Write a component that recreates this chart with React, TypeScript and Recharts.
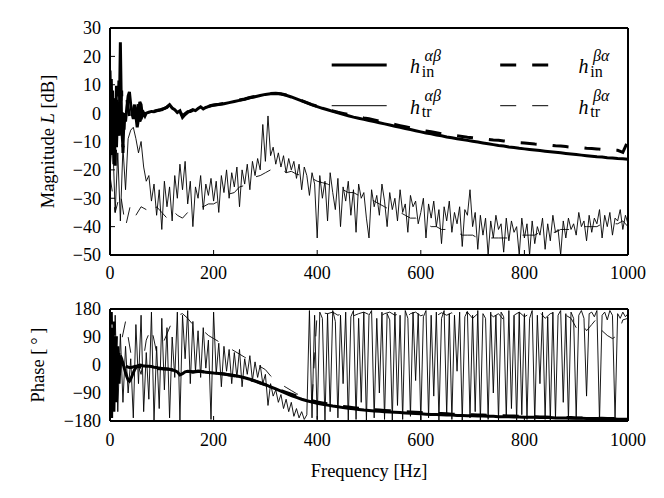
import React from 'react';
import { LineChart, Line, XAxis, YAxis, Legend } from 'recharts';

const FONT = '"Liberation Serif", "Times New Roman", Times, serif';

// ---------- frequency grids ----------
const inFreq = [
  0, 2.5, 5, 7.5, 10, 12.5, 15, 17.5, 20, 22.5, 25, 27.5, 30, 32.5, 35, 37.5, 40, 42.5, 45, 47.5, 50, 52.5, 55, 57.5, 60, 62.5, 65, 67.5, 70,
  75, 80, 85, 90, 95, 100, 105, 110, 115, 120, 125, 130, 135, 140, 145, 150, 155, 160, 165, 170, 175, 180, 185, 190, 195, 200,
  210, 220, 230, 240, 250, 260, 270, 280, 290, 300, 310, 320, 330, 340, 350, 360, 370, 380, 390, 400,
  410, 420, 430, 440, 450, 460, 470, 480, 490, 500, 510, 520, 530, 540, 550, 560, 570, 580, 590, 600,
  610, 620, 630, 640, 650, 660, 670, 680, 690, 700, 710, 720, 730, 740, 750, 760, 770, 780, 790, 800,
  810, 820, 830, 840, 850, 860, 870, 880, 890, 900, 910, 920, 930, 940, 950, 960, 970, 980, 990, 1000,
];

const trFreq = [
  0, 5, 10, 15, 20, 25, 30, 35, 40, 45, 50, 55, 60, 65, 70, 75, 80, 85, 90, 95,
  100, 105, 110, 115, 120, 125, 130, 135, 140, 145, 150, 155, 160, 165, 170, 175, 180, 185, 190, 195,
  200, 205, 210, 215, 220, 225, 230, 235, 240, 245, 250, 255, 260, 265, 270, 275, 280, 285, 290, 295,
  300, 305, 310, 315, 320, 325, 330, 335, 340, 345, 350, 355, 360, 365, 370, 375, 380, 385, 390, 395,
  400, 405, 410, 415, 420, 425, 430, 435, 440, 445, 450, 455, 460, 465, 470, 475, 480, 485, 490, 495,
  500, 505, 510, 515, 520, 525, 530, 535, 540, 545, 550, 555, 560, 565, 570, 575, 580, 585, 590, 595,
  600, 605, 610, 615, 620, 625, 630, 635, 640, 645, 650, 655, 660, 665, 670, 675, 680, 685, 690, 695,
  700, 705, 710, 715, 720, 725, 730, 735, 740, 745, 750, 755, 760, 765, 770, 775, 780, 785, 790, 795,
  800, 805, 810, 815, 820, 825, 830, 835, 840, 845, 850, 855, 860, 865, 870, 875, 880, 885, 890, 895,
  900, 905, 910, 915, 920, 925, 930, 935, 940, 945, 950, 955, 960, 965, 970, 975, 980, 985, 990, 995, 1000,
];

const trBAFreq = [
  0, 10, 20, 30, 40, 50, 60, 70, 80, 90, 100, 110, 120, 130, 140, 150, 160, 170, 180, 190,
  200, 210, 220, 230, 240, 250, 260, 270, 280, 290, 300, 310, 320, 330, 340, 350, 360, 370, 380, 390,
  400, 410, 420, 430, 440, 450, 460, 470, 480, 490, 500, 510, 520, 530, 540, 550, 560, 570, 580, 590,
  600, 610, 620, 630, 640, 650, 660, 670, 680, 690, 700, 710, 720, 730, 740, 750, 760, 770, 780, 790,
  800, 810, 820, 830, 840, 850, 860, 870, 880, 890, 900, 910, 920, 930, 940, 950, 960, 970, 980, 990, 1000,
];

// ---------- magnitude [dB] ----------
const magInAB = [
  15, -10, 8, -18, 5, -12, 3, -8, 25, -5, -12, 0, -3, 2, 6, 7.5, 3, 0, -2, 0, -1, -5, -2, 4, 3, -1, 0, -1, 0,
  0.3, 0.6, 0.5, 0.8, 1.0, 1.4, 1.6, 2.2, 3.0, 1.8, 1.2, 0.2, 0.8, -1.5, -0.5, 0.3, 0.8, 1.2, 0.9, 1.6, 2.2, 1.5, 2.0, 2.3, 2.6, 2.8,
  3.0, 3.3, 3.7, 4.1, 4.5, 4.9, 5.4, 5.8, 6.2, 6.6,
  6.8, 6.9, 6.7, 6.3, 5.7, 5.0, 4.3, 3.6, 2.9, 2.3,
  1.7, 1.2, 0.6, 0.1, -0.4, -0.9, -1.4, -1.8, -2.2, -2.6,
  -3.0, -3.4, -3.8, -4.2, -4.6, -5.0, -5.4, -5.8, -6.2, -6.6,
  -7.0, -7.3, -7.7, -8.0, -8.4, -8.7, -9.0, -9.3, -9.6, -9.9,
  -10.2, -10.5, -10.8, -11.1, -11.4, -11.6, -11.9, -12.1, -12.4, -12.6,
  -12.8, -13.0, -13.2, -13.4, -13.6, -13.8, -14.0, -14.2, -14.4, -14.6,
  -14.8, -15.0, -15.2, -15.4, -15.5, -15.7, -15.8, -16.0, -16.1, -16.3,
];

const magInBA = [
  -12, 12, -16, 6, -20, 10, -6, 14, 2, 8, -14, -4, 3, 5, 2, -1, -2, -3, 1, 3, -4, 0, 4, -3, -1, 1, 0, 0.5, 0.5,
  0.5, 0.4, 0.7, 0.9, 1.1, 1.2, 1.7, 2.0, 3.0, 2.0, 1.0, 0.5, 0.5, -1.0, -0.2, 0.5, 0.6, 1.0, 1.1, 1.5, 2.0, 1.7, 2.1, 2.4, 2.7, 2.9,
  3.1, 3.4, 3.8, 4.2, 4.6, 5.0, 5.5, 5.9, 6.3, 6.7,
  6.9, 7.0, 6.8, 6.4, 5.8, 5.1, 4.4, 3.7, 3.0, 2.4,
  1.8, 1.3, 0.8, 0.3, -0.1, -0.5, -0.9, -1.3, -1.7, -2.0,
  -2.4, -2.8, -3.2, -3.6, -4.0, -4.4, -4.8, -5.2, -5.6, -6.0,
  -6.3, -6.6, -6.9, -7.3, -7.6, -7.8, -8.0, -8.2, -8.5, -8.7,
  -8.9, -9.1, -9.3, -9.5, -9.6, -9.8, -10.0, -10.2, -10.4, -10.5,
  -10.7, -10.9, -11.0, -11.2, -11.3, -11.5, -11.6, -11.8, -12.0, -12.1,
  -12.2, -12.4, -12.5, -12.6, -12.8, -12.9, -13.0, -13.1, -13.8, -9.8,
];

const magTrAB = [
  -20, -8, -35, -14, -38, -12, -27, -9, -6, -5, -9, -14, -10, -19, -24, -22, -31, -25, -36, -27,
  -41, -24, -33, -26, -38, -22, -30, -18, -27, -17, -32, -24, -40, -26, -30, -22, -34, -25, -29, -23,
  -31, -24, -35, -22, -28, -20, -30, -21, -26, -19, -33, -20, -25, -18, -27, -17, -22, -16, -20, -4,
  -17, -1, -15, -12, -18, -14, -19, -15, -21, -16, -20, -17, -23, -18, -27, -19, -22, -29, -21, -25,
  -44, -22, -30, -24, -38, -21, -28, -34, -23, -40, -26, -31, -24, -36, -27, -42, -25, -30, -28, -37,
  -44, -27, -33, -29, -36, -25, -31, -40, -28, -34, -30, -38, -27, -35, -32, -42, -29, -33, -31, -39,
  -35, -30, -44, -32, -37, -31, -40, -34, -46, -33, -38, -31, -42, -35, -39, -33, -47, -34, -36, -27,
  -40, -35, -48, -36, -43, -37, -50, -38, -44, -36, -41, -39, -49, -37, -45, -38, -42, -40, -50, -37,
  -44, -39, -50, -38, -46, -40, -43, -37, -48, -39, -45, -36, -42, -41, -50, -38, -44, -37, -41, -39,
  -43, -35, -40, -38, -45, -36, -42, -37, -39, -34, -44, -36, -40, -35, -43, -37, -38, -34, -41, -36, -39,
];

const magTrBA = [
  -22, -35, -28, -40, -32, -36, -33, -34, -36, -33, -35, -37, -34, -36, -37, -35, -34, -33, -33, -32,
  -32, -31, -30.5, -28.5, -28, -26, -25.5, -24, -22.5, -22, -21, -20, -20.5, -19.5, -21, -20.5, -21.5, -22, -22, -23,
  -24, -24.5, -25, -26, -26, -27, -28, -28, -29, -30, -30, -31, -32, -33, -34, -34, -35, -36, -37, -37,
  -38, -39, -40, -40, -41, -41, -42, -42, -43, -43, -43, -44, -44, -44, -44, -44, -44, -44, -44, -43,
  -43, -43, -43, -42, -42, -42, -42, -41, -41, -41, -41, -40, -40, -40, -40, -39, -39, -39, -39, -38, -40,
];

// ---------- phase [deg] ----------
const phaseInAB = [
  150, -170, 120, -150, 90, -120, 60, -60, 30, 20, 5, -10, -25, -38, -48, -52, -45, -35, -25, -15, -8, -4, -2, 0, -1, -2, -3, -3, -4,
  -4, -5, -7, -8, -10, -11, -12, -13, -14, -16, -18, -22, -32, -28, -22, -20, -21, -23, -21, -19, -20, -22, -23, -24, -25, -26,
  -27, -29, -31, -34, -37, -41, -46, -51, -57, -63,
  -70, -77, -84, -91, -98, -104, -110, -115, -119, -123,
  -126, -129, -132, -134, -137, -139, -141, -143, -145, -146,
  -148, -149, -150, -151, -152, -153, -154, -155, -156, -157,
  -158, -159, -159, -160, -161, -161, -162, -162, -163, -163,
  -164, -164, -165, -165, -166, -166, -166, -167, -167, -168,
  -168, -168, -169, -169, -169, -170, -170, -170, -171, -171,
  -171, -172, -172, -172, -173, -173, -173, -174, -174, -174,
];

const phaseInBA = [
  -150, 170, -100, 140, -60, 100, -30, 40, 25, 15, 5, 0, -3, -5, -7, -8, -8, -7, -6, -5, -4, -4, -5, -6, -7, -8, -9, -9, -10,
  -10, -10, -11, -11, -12, -12, -13, -13, -14, -15, -16, -19, -24, -27, -24, -21, -21, -22, -22, -21, -21, -22, -23, -24, -25, -26,
  -27, -29, -32, -35, -38, -42, -47, -52, -58, -64,
  -70, -76, -82, -88, -94, -100, -106, -111, -115, -119,
  -122, -125, -128, -130, -133, -135, -137, -139, -141, -142,
  -144, -145, -146, -147, -148, -149, -150, -151, -152, -153,
  -154, -155, -156, -156, -157, -158, -158, -159, -159, -160,
  -161, -161, -162, -162, -163, -163, -164, -164, -165, -165,
  -166, -166, -167, -167, -168, -168, -168, -169, -169, -170,
  -170, -170, -171, -171, -171, -172, -172, -172, -173, -173,
];

const phaseTrAB = [
  170, -170, 160, -150, 100, -120, 60, -90, 20, -170, 130, -60, 160, -150, 40, -110, 170, -180, 60, -140,
  150, -80, 120, -170, 90, -40, 170, -180, 160, 20, 175, -60, 140, -20, 110, -40, 120, -10, 80, -175,
  170, -30, 70, -70, 60, -20, 50, -60, 40, -40, 50, -70, 20, -30, 30, -50, 10, -40, 0, -60,
  -30, -130, -60, -100, -80, -120, -95, -140, -110, -150, -120, -165, -140, -170, -150, -175, -160, 175, -170, 160,
  -175, 170, 150, -180, 165, -150, 175, 140, -170, 160, -60, 170, -180, 155, 175, -175, 150, -120, 170, -180,
  160, 175, -170, 150, -90, 170, -175, 165, 145, -180, 170, -130, 160, -175, 175, 150, -165, 170, -50, 165,
  -180, 155, 175, -170, 160, -100, 170, -178, 150, 175, -160, 165, -175, 160, -20, 170, -180, 155, 172, -170,
  160, -150, 175, -180, 165, 150, -175, 170, -90, 160, -178, 170, 155, -170, 175, -140, 160, -180, 170, -160,
  165, -175, 150, 175, -180, 160, -60, 170, -175, 155, -180, 170, -170, 160, 175, -120, 165, -178, 170, 150,
  -170, 160, 175, 150, -100, 165, 170, 155, 175, -180, 160, 170, 145, 175, 160, -175, 165, 150, 170, 155, 165,
];

const phaseTrBA = [
  120, -100, 60, 140, 40, 20, -30, 80, 120, 40, 60, 100, 140, 160, 165, 150, 130, 120, 110, 95,
  85, 75, 65, 55, 45, 35, 25, 15, 5, -5, -15, -35, -50, -62, -72, -82, -92, -100, -108, -115,
  170, 168, 165, 170, 160, 166, 171, 158, 165, 170, 162, 168, 155, 165, 170, 160, 166, 150, 165, 170,
  158, 165, 165, 158, 168, 160, 168, 155, 165, 170, 150, 165, 160, 170, 155, 165, 145, 168, 160, 170,
  155, 165, 160, 170, 150, 165, 170, 155, 160, 150, 120, 140, 110, 130, 150, 110, 95, 85, 95, 145, 150,
];

// ---------- ticks ----------
const freqTicks = [0, 200, 400, 600, 800, 1000];
const magTicks = [30, 20, 10, 0, -10, -20, -30, -40, -50];
const phaseTicks = [180, 90, 0, -90, -180];

const toPts = (fs: number[], vs: number[]) => fs.map((f, i) => ({ f, v: vs[i] }));

const dInAB = toPts(inFreq, magInAB);
const dInBA = toPts(inFreq, magInBA);
const dTrAB = toPts(trFreq, magTrAB);
const dTrBA = toPts(trBAFreq, magTrBA);
const pInAB = toPts(inFreq, phaseInAB);
const pInBA = toPts(inFreq, phaseInBA);
const pTrAB = toPts(trFreq, phaseTrAB);
const pTrBA = toPts(trBAFreq, phaseTrBA);

const fmt = (v: number) => (v < 0 ? '\u2212' + Math.abs(v) : String(v));
const tickStyle = { fill: '#000', fontSize: 18, fontFamily: FONT };
const axisLine = { stroke: '#000', strokeWidth: 2 };
const tickLine = { stroke: '#000', strokeWidth: 1 };

const MagLabel = (props: any) => {
  const vb = props.viewBox || { y: 28, height: 227 };
  const cx = 48;
  const cy = vb.y + vb.height / 2;
  return (
    <text x={cx} y={cy} transform={`rotate(-90 ${cx} ${cy})`} textAnchor="middle" dominantBaseline="central"
      fontFamily={FONT} fontSize={18.5} fill="#000">
      Magnitude <tspan fontStyle="italic">L</tspan> [dB]
    </text>
  );
};

const PhaseLabel = (props: any) => {
  const vb = props.viewBox || { y: 19, height: 112 };
  const cx = 37.5;
  const cy = vb.y + vb.height / 2;
  return (
    <text x={cx} y={cy} transform={`rotate(-90 ${cx} ${cy})`} textAnchor="middle" dominantBaseline="central"
      fontFamily={FONT} fontSize={18.5} fill="#000">
      Phase [{'\u2009'}°{'\u2009'}]
    </text>
  );
};

const FreqLabel = (props: any) => {
  const vb = props.viewBox || { x: 110, y: 131, width: 518 };
  return (
    <text x={vb.x + vb.width / 2} y={vb.y + 55.5} textAnchor="middle" fontFamily={FONT} fontSize={18.5} fill="#000">
      Frequency [Hz]
    </text>
  );
};

const legendItems = [
  { col: 0, row: 0, w: 3, dash: undefined as string | undefined, sup: 'αβ', sub: 'in' },
  { col: 1, row: 0, w: 3, dash: '16 16', sup: 'βα', sub: 'in' },
  { col: 0, row: 1, w: 1, dash: undefined as string | undefined, sup: 'αβ', sub: 'tr' },
  { col: 1, row: 1, w: 1, dash: '16 16', sup: 'βα', sub: 'tr' },
];

const LegendBox = () => (
  <svg width={300} height={85} style={{ display: 'block', overflow: 'visible' }}>
    {legendItems.map((it, i) => {
      const ox = it.col * 168.5;
      const oy = 20 + it.row * 40.7;
      return (
        <g key={i}>
          <line x1={ox + 0.7} x2={ox + 55.7} y1={oy} y2={oy} stroke="#000" strokeWidth={it.w} strokeDasharray={it.dash} />
          <text x={ox + 79} y={oy + 8} fontFamily={FONT} fontSize={20} fontStyle="italic" fill="#000">h</text>
          <text x={ox + 93.5} y={oy - 4.5} fontFamily={FONT} fontSize={16} fontStyle="italic" fill="#000">{it.sup}</text>
          <text x={ox + 90.7} y={oy + 11.7} fontFamily={FONT} fontSize={16} fill="#000">{it.sub}</text>
        </g>
      );
    })}
  </svg>
);

const thin = 0.9;
const thick = 3;

export default function App() {
  return (
    <div style={{ position: 'relative', width: 664, height: 498, margin: -8, background: '#fff' }}>
      <div style={{ position: 'absolute', left: 0, top: 0 }}>
        <LineChart width={664} height={290} margin={{ top: 27, right: 35, bottom: 5, left: 0 }}>
          <XAxis xAxisId="b" type="number" dataKey="f" domain={[0, 1000]} allowDataOverflow ticks={freqTicks}
            height={30} tickSize={-5} tickMargin={16.5} tick={tickStyle} axisLine={axisLine} tickLine={tickLine} />
          <XAxis xAxisId="t" orientation="top" type="number" dataKey="f" domain={[0, 1000]} allowDataOverflow ticks={freqTicks}
            height={1} tickSize={-5} tick={false} axisLine={axisLine} tickLine={tickLine} />
          <YAxis yAxisId="l" type="number" domain={[-50, 30]} allowDataOverflow ticks={magTicks} width={110}
            tickSize={-5} tickMargin={14} tick={tickStyle} tickFormatter={fmt} axisLine={axisLine} tickLine={tickLine}
            label={<MagLabel />} />
          <YAxis yAxisId="r" orientation="right" type="number" domain={[-50, 30]} allowDataOverflow ticks={magTicks} width={1}
            tickSize={-5} tick={false} axisLine={axisLine} tickLine={tickLine} />
          <Line data={dTrBA} dataKey="v" xAxisId="b" yAxisId="l" stroke="#000" strokeWidth={thin} strokeDasharray="16 16"
            dot={false} activeDot={false} isAnimationActive={false} />
          <Line data={dTrAB} dataKey="v" xAxisId="b" yAxisId="l" stroke="#000" strokeWidth={thin}
            dot={false} activeDot={false} isAnimationActive={false} />
          <Line data={dInBA} dataKey="v" xAxisId="b" yAxisId="l" stroke="#000" strokeWidth={thick} strokeDasharray="16 16"
            dot={false} activeDot={false} isAnimationActive={false} />
          <Line data={dInAB} dataKey="v" xAxisId="b" yAxisId="l" stroke="#000" strokeWidth={thick}
            dot={false} activeDot={false} isAnimationActive={false} />
          <Legend layout="vertical" align="center" verticalAlign="middle" content={() => <LegendBox />}
            wrapperStyle={{ left: 331, top: 45, width: 300, height: 85 }} />
        </LineChart>
      </div>
      <div style={{ position: 'absolute', left: 0, top: 290 }}>
        <LineChart width={664} height={208} margin={{ top: 18, right: 35, bottom: 0, left: 0 }}>
          <XAxis xAxisId="b" type="number" dataKey="f" domain={[0, 1000]} allowDataOverflow ticks={freqTicks}
            height={77} tickSize={-5} tickMargin={17.5} tick={tickStyle} axisLine={axisLine} tickLine={tickLine}
            label={<FreqLabel />} />
          <XAxis xAxisId="t" orientation="top" type="number" dataKey="f" domain={[0, 1000]} allowDataOverflow ticks={freqTicks}
            height={1} tickSize={-5} tick={false} axisLine={axisLine} tickLine={tickLine} />
          <YAxis yAxisId="l" type="number" domain={[-180, 180]} allowDataOverflow ticks={phaseTicks} width={110}
            tickSize={-5} tickMargin={14} tick={tickStyle} tickFormatter={fmt} axisLine={axisLine} tickLine={tickLine}
            label={<PhaseLabel />} />
          <YAxis yAxisId="r" orientation="right" type="number" domain={[-180, 180]} allowDataOverflow ticks={phaseTicks} width={1}
            tickSize={-5} tick={false} axisLine={axisLine} tickLine={tickLine} />
          <Line data={pTrBA} dataKey="v" xAxisId="b" yAxisId="l" stroke="#000" strokeWidth={thin} strokeDasharray="16 16"
            dot={false} activeDot={false} isAnimationActive={false} />
          <Line data={pTrAB} dataKey="v" xAxisId="b" yAxisId="l" stroke="#000" strokeWidth={thin}
            dot={false} activeDot={false} isAnimationActive={false} />
          <Line data={pInBA} dataKey="v" xAxisId="b" yAxisId="l" stroke="#000" strokeWidth={thick} strokeDasharray="16 16"
            dot={false} activeDot={false} isAnimationActive={false} />
          <Line data={pInAB} dataKey="v" xAxisId="b" yAxisId="l" stroke="#000" strokeWidth={thick}
            dot={false} activeDot={false} isAnimationActive={false} />
        </LineChart>
      </div>
    </div>
  );
}
